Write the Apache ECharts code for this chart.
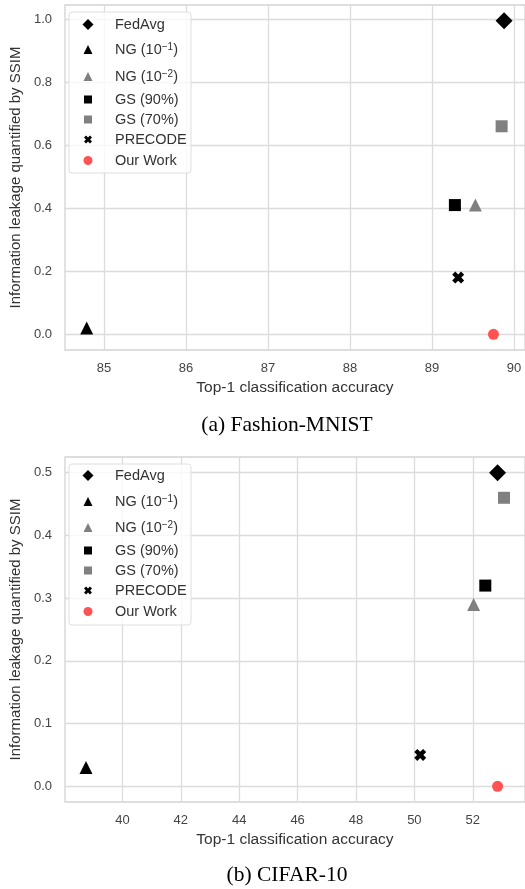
<!DOCTYPE html>
<html><head><meta charset="utf-8">
<script src="https://cdn.jsdelivr.net/npm/echarts@6/dist/echarts.min.js"></script>
<style>html,body{margin:0;padding:0;background:#fff}#c{width:525px;height:889px}</style>
</head><body><div id="c"></div>
<script>
const seriesNames = ['FedAvg', 'NG (10^-1)', 'NG (10^-2)', 'GS (90%)', 'GS (70%)', 'PRECODE', 'Our Work'];
const legendLabels = ['{n|FedAvg}', '{n|NG (10}{s|\u22121}{n|)}', '{n|NG (10}{s|\u22122}{n|)}', '{n|GS (90%)}', '{n|GS (70%)}', '{n|PRECODE}', '{n|Our Work}'];
const fmnistAcc  = [89.88, 84.79, 89.53, 89.28, 89.85, 89.32, 89.75];
const fmnistSSIM = [0.995, 0.02, 0.41, 0.41, 0.66, 0.18, 0.0];
const cifarAcc   = [52.85, 38.75, 52.03, 52.43, 53.07, 50.20, 52.85];
const cifarSSIM  = [0.50, 0.03, 0.29, 0.32, 0.46, 0.05, 0.0];
const fmnistXTicks = [85, 86, 87, 88, 89, 90];
const fmnistYTicks = [0.0, 0.2, 0.4, 0.6, 0.8, 1.0];
const cifarXTicks = [40, 42, 44, 46, 48, 50, 52];
const cifarYTicks = [0.0, 0.1, 0.2, 0.3, 0.4, 0.5];
const captions = ['(a) Fashion-MNIST', '(b) CIFAR-10'];

const XPATH = 'path://M2.6,0 L5,2.4 L7.4,0 L10,2.6 L7.6,5 L10,7.4 L7.4,10 L5,7.6 L2.6,10 L0,7.4 L2.4,5 L0,2.6 Z';
const symbols = ['diamond', 'triangle', 'triangle', 'rect', 'rect', XPATH, 'circle'];
const colors = ['#000000', '#000000', '#808080', '#000000', '#808080', '#000000', '#ff5252'];
const sizes = [17, 13, 13, 12, 12, 12, 11];
const legendIconSizes = [11, 9, 9, 8, 8, 8, 9];
const legendY = [[24, 49, 76, 99, 119, 139, 160], [475, 501, 527, 550, 570, 590, 611]];
const legendBox = [[69, 12, 122, 161], [69, 464, 122, 161]];

const FONT = '"Liberation Sans", Arial, sans-serif';
const grids = [
  {left: 61, top: 5, width: 466, height: 345},
  {left: 61, top: 457, width: 466, height: 345}
];
const xr = [[84.525, 90.135], [38.03, 53.79]];
const yr = [[-0.04975, 1.04475], [-0.025, 0.525]];
const xt = [fmnistXTicks, cifarXTicks];
const yt = [fmnistYTicks, cifarYTicks];

const gridOpt = grids.map(g => Object.assign({show: true, borderColor: '#d4d4d4', borderWidth: 1.3, backgroundColor: 'transparent', containLabel: false}, g));
const xAxes = [0, 1].map(i => ({
  type: 'value', gridIndex: i, min: xr[i][0], max: xr[i][1],
  name: 'Top-1 classification accuracy', nameLocation: 'middle', nameGap: 30,
  nameTextStyle: {fontFamily: FONT, fontSize: 15.5, color: '#333'},
  axisLine: {show: false}, axisTick: {show: false, customValues: xt[i]},
  axisLabel: {customValues: xt[i], fontFamily: FONT, fontSize: 13, color: '#444', margin: 12},
  splitLine: {show: true, lineStyle: {color: '#dcdcdc', width: 1.3}}
}));
const yAxes = [0, 1].map(i => ({
  type: 'value', gridIndex: i, min: yr[i][0], max: yr[i][1],
  name: 'Information leakage quantified by SSIM', nameLocation: 'middle', nameGap: 38,
  nameTextStyle: {fontFamily: FONT, fontSize: 15, color: '#333'},
  axisLine: {show: false}, axisTick: {show: false, customValues: yt[i]},
  axisLabel: {customValues: yt[i], fontFamily: FONT, fontSize: 13, color: '#444', margin: 13, formatter: v => v.toFixed(1)},
  splitLine: {show: true, lineStyle: {color: '#dcdcdc', width: 1.3}}
}));

const series = [];
const accs = [fmnistAcc, cifarAcc], ssims = [fmnistSSIM, cifarSSIM];
[0, 1].forEach(c => {
  seriesNames.forEach((n, i) => {
    series.push({
      type: 'scatter', name: n, xAxisIndex: c, yAxisIndex: c,
      symbol: symbols[i], symbolSize: sizes[i],
      itemStyle: {color: colors[i], opacity: 1},
      data: [[accs[c][i], ssims[c][i]]], z: 3, silent: true
    });
  });
});

const legends = [];
[0, 1].forEach(c => {
  seriesNames.forEach((n, i) => {
    const s = legendIconSizes[i];
    legends.push({
      data: [n], left: 88 - s / 2, top: legendY[c][i] - 7, padding: 0,
      itemWidth: s, itemHeight: s, selectedMode: false,
      formatter: () => legendLabels[i], z: 6,
      textStyle: {fontFamily: FONT, fontSize: 14.5, color: '#333', lineHeight: 14,
        padding: [0, 0, 0, 22 - s / 2],
        rich: {n: {fontFamily: FONT, fontSize: 14.5, color: '#333', lineHeight: 14},
               s: {fontFamily: FONT, fontSize: 10, color: '#333', lineHeight: 9, verticalAlign: 'top'}}}
    });
  });
});

const graphics = [];
legendBox.forEach(b => graphics.push({
  type: 'rect', shape: {x: b[0], y: b[1], width: b[2], height: b[3], r: 3}, z: 5,
  style: {fill: 'rgba(255,255,255,0.8)', stroke: '#dedede', lineWidth: 1}
}));
graphics.push({type: 'text', x: 287, y: 425.5, z: 5, style: {text: captions[0], font: '21.5px "Liberation Serif", "Times New Roman", serif', fill: '#000', align: 'center', verticalAlign: 'middle'}});
graphics.push({type: 'text', x: 287, y: 875.5, z: 5, style: {text: captions[1], font: '21.5px "Liberation Serif", "Times New Roman", serif', fill: '#000', align: 'center', verticalAlign: 'middle'}});

const chart = echarts.init(document.getElementById('c'), null, {renderer: 'canvas'});
chart.setOption({
  backgroundColor: '#ffffff', animation: false,
  grid: gridOpt, xAxis: xAxes, yAxis: yAxes, series: series, legend: legends, graphic: graphics
});
</script></body></html>
